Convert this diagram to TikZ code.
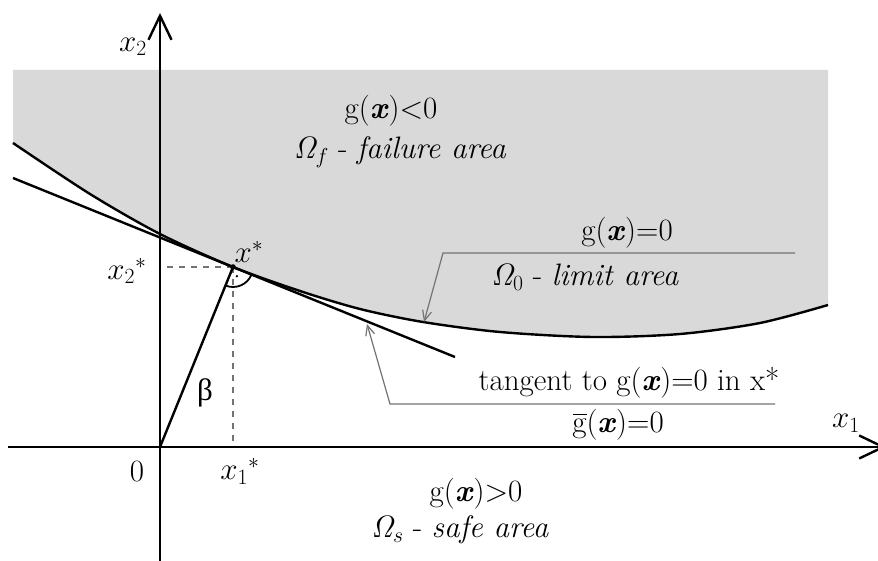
\RequirePackage{fix-cm}
\documentclass[tikz,border=0pt]{standalone}
\usepackage[no-math]{fontspec}
\newfontfamily\grk{Liberation Serif}
\usetikzlibrary{arrows.meta}
\newcommand{\gbarsym}{\mbox{\rlap{\kern0.03em\rule[0.56em]{0.44em}{0.055em}}g}}
\begin{document}
\begin{tikzpicture}[x=1pt,y=-1pt,
  axis/.style={line width=2.6pt,-{Straight Barb[length=24pt,width=23pt,line width=2.4pt]}},
  curve/.style={line width=2.4pt},
  leader/.style={draw=black!55,line width=1.2pt},
  leaderarrow/.style={leader,-{Straight Barb[length=10pt,width=9pt,line width=1.2pt]}},
  guide/.style={draw=black!55,line width=1.2pt,dash pattern=on 6pt off 6pt},
  lbl/.style={font=\fontsize{31}{35}\selectfont,inner sep=0pt}]
\useasboundingbox (0,0) rectangle (878,561);
% failure region
\fill[black!15] (13,70) -- (828,70) -- (828,305)
  -- plot[smooth] coordinates {(828,305) (760,323) (680,334) (593,337) (500,332) (423,322) (360,309) (300,291) (233,267) (160,234) (90,194) (13,143)} -- cycle;
% coordinates
\coordinate (O) at (160,447);
\coordinate (Xs) at (233,267);
\coordinate (Ytop) at (160,13);
\coordinate (Ybot) at (160,561);
\coordinate (Xl) at (8,447);
\coordinate (Xr) at (886,447);
\coordinate (Tl) at (13,178);
\coordinate (Tr) at (455,357);
\coordinate (Yproj) at (160,267);
\coordinate (Xproj) at (233,447);
% dashed guides
\draw[guide] (Xs) -- (Yproj);
\draw[guide] (Xs) -- (Xproj);
% limit curve
\draw[curve] plot[smooth] coordinates {(13,143) (90,194) (160,234) (233,267) (300,291) (360,309) (423,322) (500,332) (593,337) (680,334) (760,323) (828,305)};
% tangent
\draw[curve] (Tl) -- (Tr);
% axes
\draw[axis] (Ybot) -- (Ytop);
\draw[axis] (Xl) -- (Xr);
% beta
\draw[curve] (O) -- (Xs);
\draw[line width=1.8pt] ([shift={(22:20)}]Xs) arc[start angle=22,end angle=112,radius=20];
\fill ([shift={(67:10)}]Xs) circle (1.3);
\fill (Xs) circle (2.8);
% leaders
\coordinate (L1a) at (795,253);
\coordinate (L1b) at (443,253);
\coordinate (L1c) at (424,322);
\draw[leaderarrow] (L1a) -- (L1b) -- (L1c);
\coordinate (L2a) at (775,404);
\coordinate (L2b) at (390,404);
\coordinate (L2c) at (367,324);
\draw[leaderarrow] (L2a) -- (L2b) -- (L2c);
% labels
\node[lbl] (lx2) at (133,47) {$x_2$};
\node[lbl] (lx1) at (846,423) {$x_1$};
\node[lbl] (l0) at (137,472) {0};
\node[lbl] (lx1s) at (240,471) {$x_1{}^{*}$};
\node[lbl] (lx2s) at (127,271) {$x_2{}^{*}$};
\node[lbl] (lxs) at (249,252) {$x^{*}$};
\node[lbl] (lb) at (205,393) {\grk β};
\node[lbl] (gneg) at (391,111) {g(\textit{\textbf{x}})<0};
\node[lbl] (omf) at (400,152) {$\mathit{\Omega}_{f}$ - \textit{failure area}};
\node[lbl] (gzero) at (627,233) {g(\textit{\textbf{x}})=0};
\node[lbl] (om0) at (585,277) {$\mathit{\Omega}_0$ - \textit{limit area}};
\node[lbl] (tan) at (629,383) {tangent to g(\textit{\textbf{x}})=0 in x*};
\node[lbl] (gbar) at (618,425) {\gbarsym(\textit{\textbf{x}})=0};
\node[lbl] (gpos) at (476,494) {g(\textit{\textbf{x}})>0};
\node[lbl] (oms) at (460,530) {$\mathit{\Omega}_s$ - \textit{safe area}};
\end{tikzpicture}
\end{document}
